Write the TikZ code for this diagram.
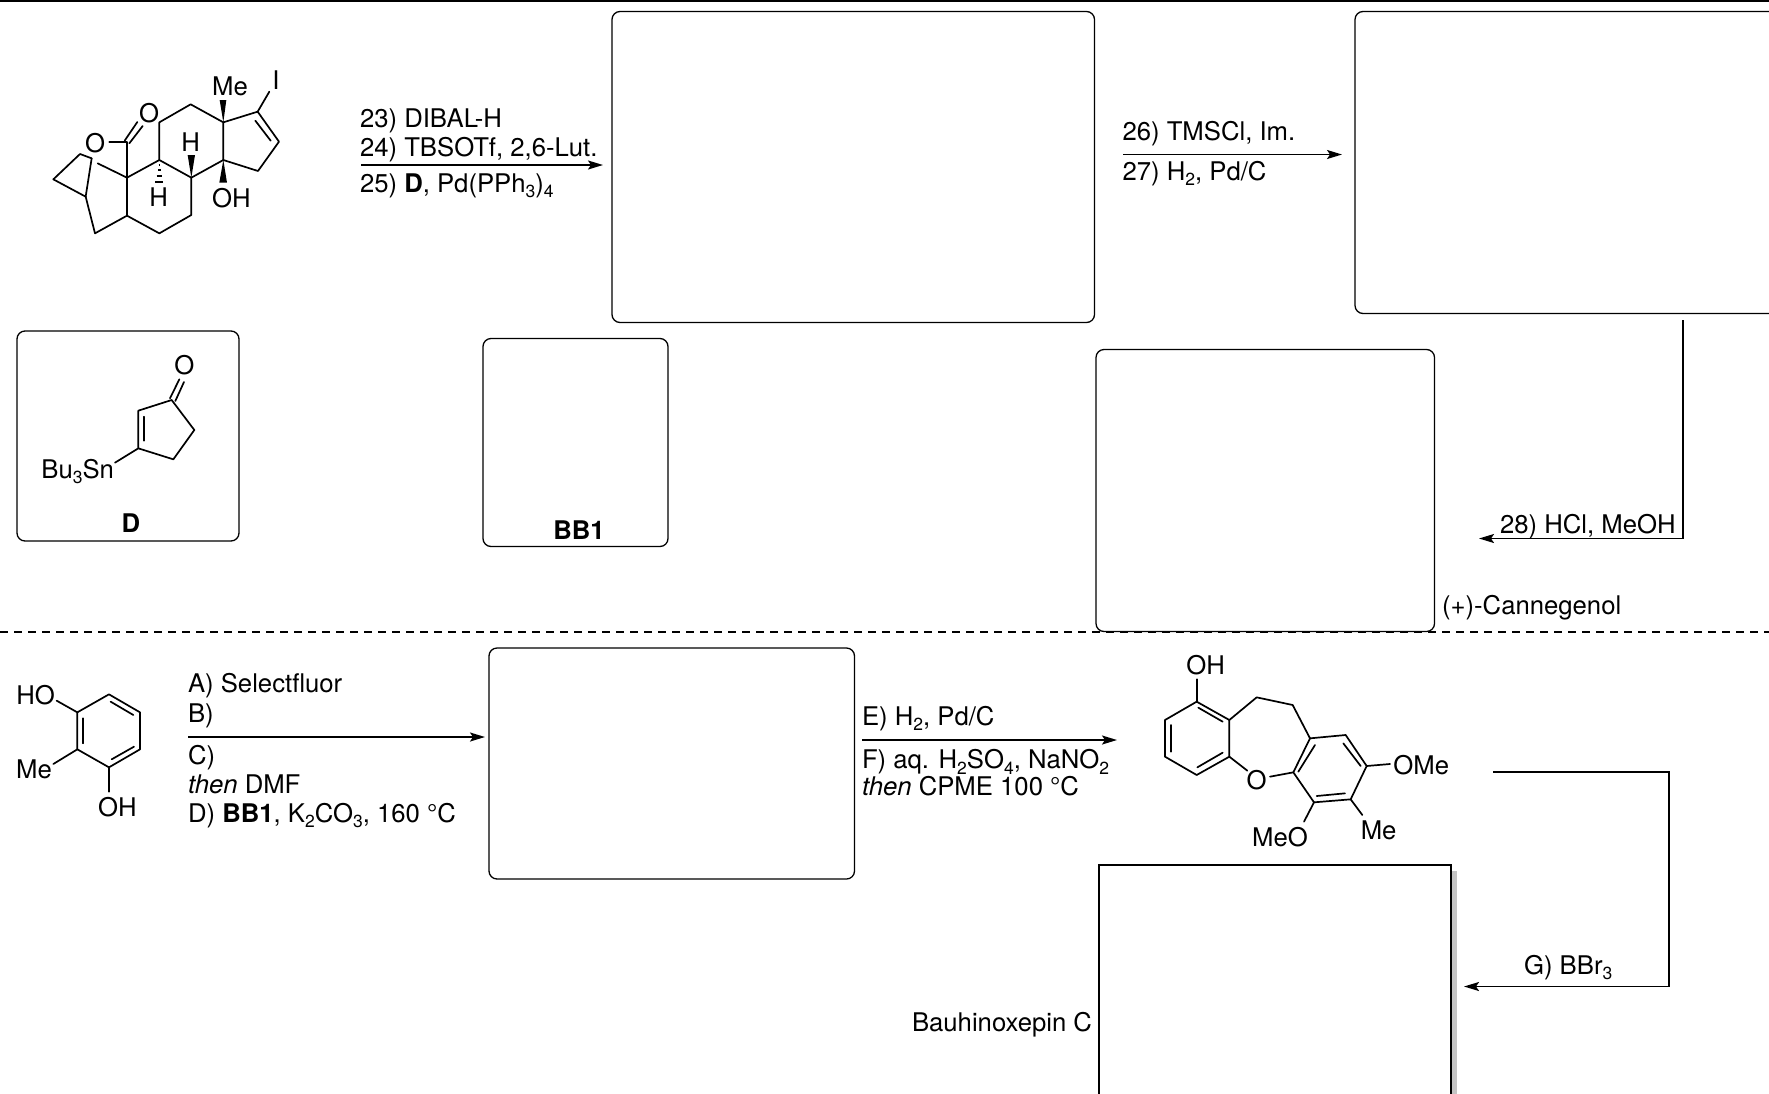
\documentclass[tikz,border=0pt]{standalone}
\usepackage{fontspec}
\setmainfont{TeX Gyre Heros}
\usetikzlibrary{arrows.meta}
\newcommand\subs[1]{\raisebox{-0.22em}{\fontsize{17.5}{17.5}\selectfont #1}}
\tikzset{
  pane/.style={draw=black,line width=1.3pt,rounded corners=8pt,fill=white,anchor=north west,inner sep=0pt,outer sep=0pt},
  txt/.style={anchor=base west,inner sep=0pt,outer sep=0pt,font=\fontsize{25.7}{30}\selectfont},
  atom/.style={anchor=center,inner sep=0pt,outer sep=0pt,font=\fontsize{25.7}{30}\selectfont},
  bond/.style={line width=1.7pt,line cap=round,line join=round},
  hash/.style={line width=1.2pt},
  wedge/.style={fill=black,draw=none},
  conn/.style={line width=1.8pt,-{Stealth[length=15pt,width=9pt,inset=3pt]}}
}
\begin{document}
\begin{tikzpicture}[x=1pt,y=-1pt]
\useasboundingbox (0,0) rectangle (1769,1093);
\clip (0,0) rectangle (1769,1093);
\fill[white] (0,0) rectangle (1769,1093);
% rules
\coordinate (topL) at (0,1); \coordinate (topR) at (1769,1);
\draw[line width=2pt] (topL) -- (topR);
\coordinate (dashL) at (0,632); \coordinate (dashR) at (1769,632);
\draw[line width=1.4pt,dash pattern=on 8pt off 6pt] (dashL) -- (dashR);
% boxes
\node[pane,minimum width=482.5pt,minimum height=311pt] (boxA) at (612,11.5) {};
\node[pane,minimum width=440pt,minimum height=302pt] (boxB) at (1355,11.5) {};
\node[pane,minimum width=222pt,minimum height=210pt] (boxD) at (17,331) {};
\node[pane,minimum width=185pt,minimum height=208pt] (boxBB) at (483,338.5) {};
\node[pane,minimum width=338.5pt,minimum height=282pt] (boxC) at (1096,349.5) {};
\node[pane,minimum width=365.5pt,minimum height=231pt] (boxE) at (489,648) {};
\fill[black!23] (1105,871) rectangle (1457,1100);
\node[draw=black,line width=1.8pt,fill=white,anchor=north west,inner sep=0pt,outer sep=0pt,minimum width=352pt,minimum height=240pt] (boxF) at (1099,865) {};
% reagents
\node[txt] (t23) at (360,127.5) {23) DIBAL-H};
\node[txt] (t24) at (360,156) {24) TBSOTf, 2,6-Lut.};
\node[txt] (t25) at (360,192) {25) \textbf{D}, Pd(PPh\subs{3})\subs{4}};
\coordinate (a1s) at (361,165); \coordinate (a1e) at (603,165);
\draw[conn] (a1s) -- (a1e);
\node[txt] (t26) at (1122.5,140) {26) TMSCl, Im.};
\node[txt] (t27) at (1122.5,180) {27) H\subs{2}, Pd/C};
\coordinate (a2s) at (1123,154.5); \coordinate (a2e) at (1342,154.5);
\draw[conn] (a2s) -- (a2e);
\node[txt] (t28) at (1500,533) {28) HCl, MeOH};
\coordinate (a3s) at (1683,320); \coordinate (a3m) at (1683,538.5); \coordinate (a3e) at (1479,538.5);
\draw[conn] (a3s) -- (a3m) -- (a3e);
\node[txt] (tcan) at (1442,614) {(+)-Cannegenol};
\node[txt] (tA) at (188,692.5) {A) Selectfluor};
\node[txt] (tB) at (188,722) {B)};
\node[txt] (tC) at (188,764) {C)};
\node[txt] (tthen) at (188,793) {\textit{then} DMF};
\node[txt] (tDD) at (188,822) {D) \textbf{BB1}, K\subs{2}CO\subs{3}, 160 °C};
\coordinate (a4s) at (188,737); \coordinate (a4e) at (485,737);
\draw[conn] (a4s) -- (a4e);
\node[txt] (tE) at (862,725) {E) H\subs{2}, Pd/C};
\node[txt] (tF) at (862,768.5) {F) aq. H\subs{2}SO\subs{4}, NaNO\subs{2}};
\node[txt] (tthen2) at (862,795.5) {\textit{then} CPME 100 °C};
\coordinate (a5s) at (862,740); \coordinate (a5e) at (1117,740);
\draw[conn] (a5s) -- (a5e);
\coordinate (a6s) at (1493,772); \coordinate (a6m) at (1669,772); \coordinate (a6n) at (1669,986.5); \coordinate (a6e) at (1464,986.5);
\draw[conn] (a6s) -- (a6m) -- (a6n) -- (a6e);
\node[txt] (tG) at (1524,974) {G) BBr\subs{3}};
\node[txt] (tBau) at (912,1031) {Bauhinoxepin C};
\node[txt,anchor=base,font=\fontsize{25.7}{30}\selectfont\bfseries] (tBB) at (579,539) {BB1};
\node[txt,anchor=base,font=\fontsize{25.7}{30}\selectfont\bfseries] (tD) at (131,532) {D};
% steroid
\begin{scope}[shift={(30,50)},scale=1/3]
\draw[bond] (388,330)--(484,383)--(580,330)--(580,217)--(482,163)--(388,217)--(388,330)--(291,383)--(291,497)--(388,550)--(484,495)--(484,383);
\draw[bond] (580,330)--(684,363)--(747,275)--(683,185)--(580,217);
\draw[bond] (722,272)--(676,212);
\draw[bond] (683,185)--(718,125);
\draw[bond] (291,497)--(195,550)--(167,440)--(70,388)--(150,312)--(185,325);
\draw[bond] (167,440)--(185,325);
\draw[bond] (203,340)--(291,383);
\draw[bond] (291,383)--(291,275)--(238,275);
\draw[bond] (284,272)--(322,216);
\draw[bond] (298,280)--(338,228);
\fill[wedge] (580,217)--(569,150)--(589,150)--cycle;
\fill[wedge] (580,330)--(568,398)--(591,398)--cycle;
\fill[wedge] (484,383)--(473,315)--(495,315)--cycle;
\foreach \yy/\w in {345/2,360/4,378/8,396/12}{\draw[hash] (388-\w,\yy)--(388+\w,\yy);}
\node[atom] (sMe) at (600,110) {Me};
\node[atom] (sI) at (738,90) {I};
\node[atom] (sOd) at (357,190) {O};
\node[atom] (sO) at (195,280) {O};
\node[atom] (sH1) at (482,277) {H};
\node[atom] (sH2) at (386,442) {H};
\node[atom] (sOH) at (604,444) {OH};
\end{scope}
% D
\begin{scope}[shift={(0,320)},scale=1/3]
\draw[bond] (345,428)--(415,385)--(415,272)--(515,240)--(583,330)--(520,418)--(415,385);
\draw[bond] (432,290)--(432,362);
\draw[bond] (510,235)--(538,178);
\draw[bond] (526,243)--(552,186);
\node[atom] (dO) at (553,135) {O};
\node[atom,anchor=base east] (dSn) at (342,475) {Bu\subs{3}Sn};
\end{scope}
% resorcinol
\begin{scope}[shift={(0,660)},scale=1/3]
\draw[bond] (232,157)--(327,103)--(420,157)--(420,268)--(327,322)--(232,268)--cycle;
\draw[bond] (250,175)--(250,250);
\draw[bond] (332,125)--(400,165);
\draw[bond] (335,298)--(402,260);
\draw[bond] (232,157)--(170,122);
\draw[bond] (232,268)--(160,312);
\draw[bond] (327,322)--(327,395);
\node[atom] (rHO) at (107,105) {HO};
\node[atom] (rMe) at (102,328) {Me};
\node[atom] (rOH) at (352,441) {OH};
\end{scope}
% oxepine
\begin{scope}[shift={(1140,640)},scale=1/3]
\draw[bond] (170,185)--(268,240)--(268,350)--(170,405)--(75,350)--(75,240)--cycle;
\draw[bond] (92,255)--(92,335);
\draw[bond] (175,203)--(248,245);
\draw[bond] (172,382)--(248,338);
\draw[bond] (170,185)--(170,118);
\draw[bond] (268,240)--(350,172)--(458,195)--(510,295);
\draw[bond] (510,295)--(617,285)--(680,378)--(632,478)--(522,487)--(460,397)--cycle;
\draw[bond] (525,315)--(475,395);
\draw[bond] (610,310)--(662,378);
\draw[bond] (530,468)--(615,460);
\draw[bond] (268,350)--(322,392);
\draw[bond] (390,410)--(460,397);
\draw[bond] (680,378)--(750,372);
\draw[bond] (632,478)--(667,525);
\draw[bond] (522,487)--(492,545);
\node[atom] (oOH) at (197,75) {OH};
\node[atom] (oO) at (350,420) {O};
\node[atom,anchor=base west] (oOMe) at (760,402) {OMe};
\node[atom] (oMe) at (716,572) {Me};
\node[atom] (oMeO) at (420,590) {MeO};
\end{scope}
\end{tikzpicture}
\end{document}
